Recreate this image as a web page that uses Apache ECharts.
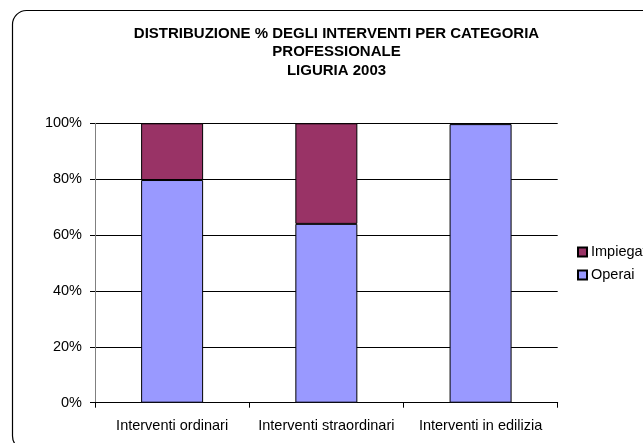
<!DOCTYPE html>
<html>
<head>
<meta charset="utf-8">
<script src="https://cdn.jsdelivr.net/npm/echarts@6/dist/echarts.min.js"></script>
<style>
  html, body { margin: 0; padding: 0; background: #fff; }
  #chart { width: 643px; height: 443px; }
</style>
</head>
<body>
<div id="chart"></div>
<script>
// categorie e percentuali
const categories = ['Interventi ordinari', 'Interventi straordinari', 'Interventi in edilizia'];
const operai = [79.7, 64.0, 99.7];
const impiegati = [20.3, 36.0, 0.3];
const yTicks = [0, 20, 40, 60, 80, 100];

const titleLines = [
  'DISTRIBUZIONE % DEGLI INTERVENTI PER CATEGORIA',
  'PROFESSIONALE',
  'LIGURIA 2003'
];

const font = 'Arial, "Liberation Sans", sans-serif';

const myChart = echarts.init(document.getElementById('chart'), null, { renderer: 'canvas' });

myChart.setOption({
  backgroundColor: '#fff',
  animation: false,
  textStyle: { fontFamily: font },
  graphic: [
    {
      type: 'rect',
      shape: { x: 12.5, y: 10.5, width: 700, height: 439.5, r: 14 },
      style: { fill: 'none', stroke: '#000', lineWidth: 1.2 },
      silent: true
    }
  ].concat(titleLines.map((t, i) => ({
    type: 'text',
    x: 336.5,
    y: 33.5 + i * 18.5,
    style: {
      text: t,
      fill: '#000',
      font: 'bold 15px ' + font,
      textAlign: 'center',
      textVerticalAlign: 'middle'
    },
    silent: true
  }))),
  grid: {
    left: 95,
    right: 85.3,
    top: 123.3,
    bottom: 40.3
  },
  legend: {
    orient: 'vertical',
    left: 572,
    top: 239.5,
    itemWidth: 9,
    itemHeight: 9,
    itemGap: 8,
    icon: 'rect',
    data: ['Impiegati', 'Operai'],
    textStyle: { color: '#000', fontSize: 14.5, fontFamily: font, padding: [0, 0, 0, -1] }
  },
  xAxis: {
    type: 'category',
    data: categories,
    axisLine: { lineStyle: { color: '#000', width: 1 } },
    axisTick: { show: true, length: 5, lineStyle: { color: '#000' } },
    axisLabel: { color: '#000', fontSize: 14.5, margin: 16, interval: 0, hideOverlap: false, fontFamily: font },
    splitLine: { show: false }
  },
  yAxis: {
    type: 'value',
    min: yTicks[0],
    max: yTicks[yTicks.length - 1],
    interval: 20,
    axisLine: { show: true, lineStyle: { color: '#808080', width: 1 } },
    axisTick: { show: true, length: 5, lineStyle: { color: '#000' } },
    axisLabel: { color: '#000', fontSize: 14.5, margin: 13, formatter: '{value}%', fontFamily: font },
    splitLine: { show: true, lineStyle: { color: '#000', width: 1 } }
  },
  series: [
    {
      name: 'Operai',
      type: 'bar',
      stack: 'tot',
      data: operai,
      barWidth: 62,
      itemStyle: { color: '#9999FF', borderColor: '#000', borderWidth: 1 }
    },
    {
      name: 'Impiegati',
      type: 'bar',
      stack: 'tot',
      data: impiegati,
      barWidth: 62,
      itemStyle: { color: '#993366', borderColor: '#000', borderWidth: 1 }
    }
  ]
});
</script>
</body>
</html>
